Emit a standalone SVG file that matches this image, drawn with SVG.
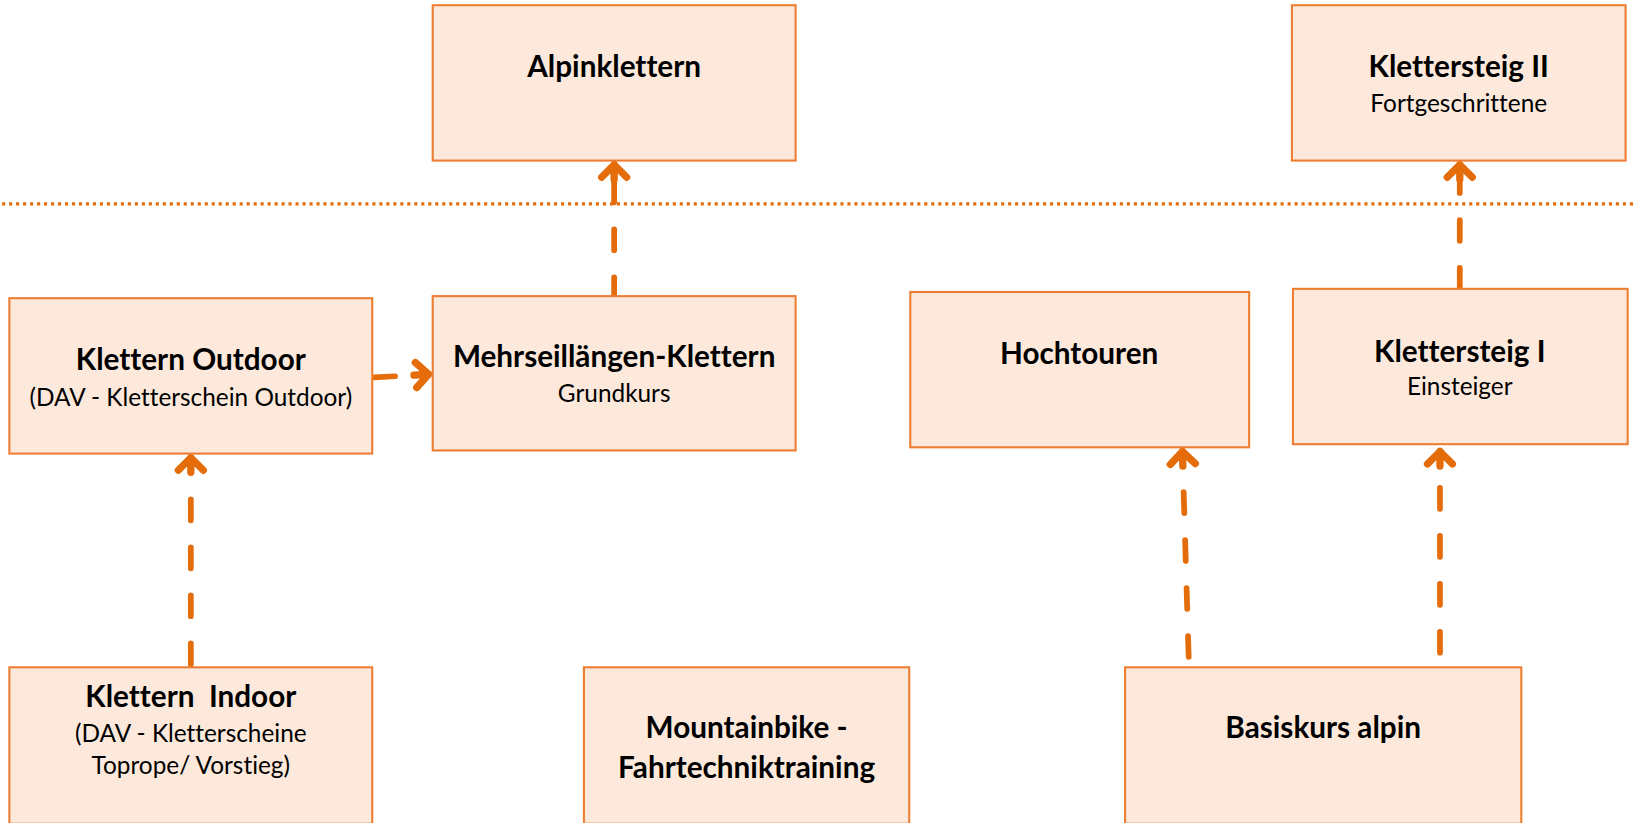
<svg xmlns="http://www.w3.org/2000/svg" width="1635" height="823" viewBox="0 0 1635 823">
<defs>
<style>
.box{fill:#FCE9DB;stroke:#ED7D31;stroke-width:2}
.t{font-family:Lato,"Open Sans","Liberation Sans",sans-serif;font-weight:bold;font-size:28.5px;fill:#000;text-anchor:middle;font-variant-ligatures:none}
.s{font-family:Lato,"Open Sans","Liberation Sans",sans-serif;font-size:23.4px;fill:#000;text-anchor:middle;font-variant-ligatures:none}
.c{fill:none;stroke:#E46C0A;stroke-width:5.5;stroke-linecap:round;stroke-dasharray:20 26;marker-end:url(#ah)}
</style>
<marker id="ah" markerUnits="userSpaceOnUse" markerWidth="44" markerHeight="44" viewBox="-22 -22 44 44" refX="0" refY="0" orient="auto">
<path d="M-12,-12 L0,0 L-12,12 M0,0 L-14,0" fill="none" stroke="#E46C0A" stroke-width="7" stroke-linecap="round" stroke-linejoin="round"/>
</marker>
</defs>
<rect width="1635" height="823" fill="#fff"/>
<g transform="scale(1.0427)">
<line x1="2" y1="195.5" x2="1568" y2="195.5" stroke="#E46C0A" stroke-width="3" stroke-dasharray="3 3.7"/>
<g id="connectors">
<path class="c" d="M359,362 L411,359"/>
<path class="c" d="M589,286 L589,158"/>
<path class="c" d="M183,637 L183,439"/>
<path class="c" d="M1140,630 L1134,433"/>
<path class="c" d="M1381,626 L1381,433"/>
<path class="c" d="M1400,277 L1400,158"/>
</g>
<g id="alpinklettern"><rect class="box" x="415" y="5" width="348" height="149"/><text class="t" x="589" y="74">Alpinklettern</text></g>
<g id="klettersteig2"><rect class="box" x="1239" y="5" width="320" height="149"/><text class="t" x="1399" y="74">Klettersteig II</text><text class="s" x="1399" y="107">Fortgeschrittene</text></g>
<g id="klettern-outdoor"><rect class="box" x="9" y="286" width="348" height="149"/><text class="t" x="183" y="355">Klettern Outdoor</text><text class="s" x="183" y="389">(DAV - Kletterschein Outdoor)</text></g>
<g id="mehrseillaengen"><rect class="box" x="415" y="284" width="348" height="148"/><text class="t" x="589" y="352">Mehrseillängen-Klettern</text><text class="s" x="589" y="386">Grundkurs</text></g>
<g id="hochtouren"><rect class="box" x="873" y="280" width="325" height="149"/><text class="t" x="1035" y="349">Hochtouren</text></g>
<g id="klettersteig1"><rect class="box" x="1240" y="277" width="321" height="149"/><text class="t" x="1400" y="347">Klettersteig I</text><text class="s" x="1400" y="379">Einsteiger</text></g>
<g id="klettern-indoor"><rect class="box" x="9" y="640" width="348" height="150"/><text class="t" x="183" y="678" xml:space="preserve">Klettern  Indoor</text><text class="s" x="183" y="711.5">(DAV - Kletterscheine</text><text class="s" x="183" y="742">Toprope/ Vorstieg)</text></g>
<g id="mountainbike"><rect class="box" x="560" y="640" width="312" height="150"/><text class="t" x="716" y="708">Mountainbike -</text><text class="t" x="716" y="746">Fahrtechniktraining</text></g>
<g id="basiskurs"><rect class="box" x="1079" y="640" width="380" height="150"/><text class="t" x="1269" y="708">Basiskurs alpin</text></g>
</g>
</svg>
